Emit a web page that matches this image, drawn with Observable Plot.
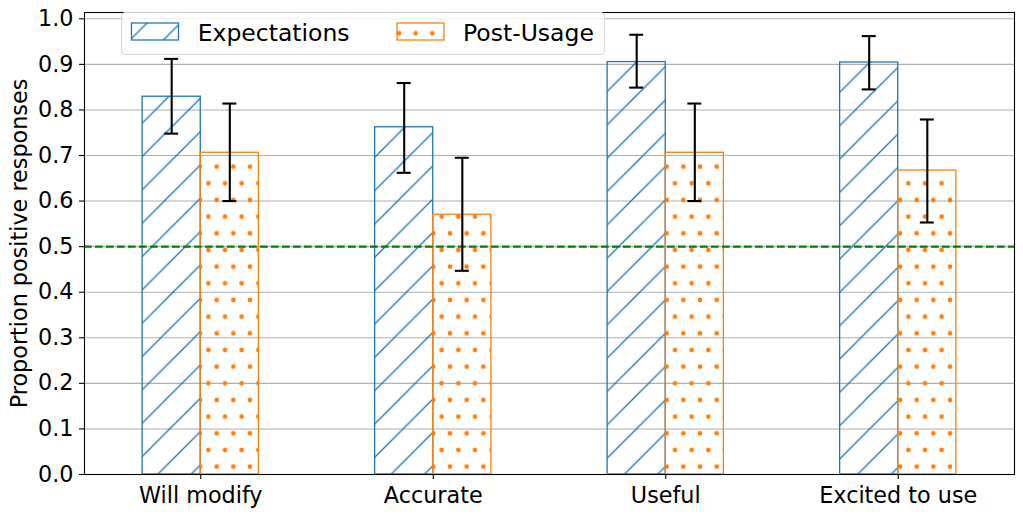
<!DOCTYPE html>
<html>
<head>
<meta charset="utf-8">
<script src="https://cdn.jsdelivr.net/npm/d3@7"></script>
<script src="https://cdn.jsdelivr.net/npm/@observablehq/plot@0.6"></script>
<style>
  html, body { margin: 0; padding: 0; background: white; }
  #wrap { position: relative; width: 1023px; height: 517px; font-family: "DejaVu Sans", sans-serif; }
  #wrap > svg { display: block; }
  #legend { position: absolute; left: 121px; top: 12px; }
</style>
</head>
<body>
<div id="wrap"></div>
<script>
// ---- data ----
const categories = ["Will modify", "Accurate", "Useful", "Excited to use"];
const seriesNames = ["Expectations", "Post-Usage"];
const expectations = [0.829, 0.762, 0.905, 0.904];
const expLow = [0.748, 0.662, 0.849, 0.845];
const expHigh = [0.912, 0.859, 0.965, 0.962];
const postUsage = [0.706, 0.570, 0.706, 0.667];
const postLow = [0.600, 0.447, 0.600, 0.553];
const postHigh = [0.814, 0.695, 0.814, 0.779];
const yTicks = [0, 0.1, 0.2, 0.3, 0.4, 0.5, 0.6, 0.7, 0.8, 0.9, 1.0];
const refLine = [0.5];
const yLabel = "Proportion positive responses";

// ---- build table ----
const barW = 0.25;
const capHalf = 0.03;
const rows = [];
categories.forEach((c, i) => {
  rows.push({cat: c, i, series: seriesNames[0], off: -1, value: expectations[i], lo: expLow[i], hi: expHigh[i]});
  rows.push({cat: c, i, series: seriesNames[1], off: 0, value: postUsage[i], lo: postLow[i], hi: postHigh[i]});
});
const blue = "#1f77b4", orange = "#ff7f0e";
const exp = rows.filter(d => d.series === seriesNames[0]);
const post = rows.filter(d => d.series === seriesNames[1]);
const fs = 22.3;

const chart = Plot.plot({
  width: 1023,
  height: 517,
  marginLeft: 84,
  marginRight: 9,
  marginTop: 12,
  marginBottom: 43,
  x: {domain: [-0.5, 3.5]},
  y: {domain: [0, 1.0138]},
  style: {fontFamily: "DejaVu Sans", fontSize: fs + "px", color: "black", background: "white", overflow: "visible"},
  marks: [
    Plot.gridY(yTicks, {stroke: "#b0b0b0", strokeOpacity: 1, strokeWidth: 1.1}),
    Plot.rect(exp, {x1: d => d.i - barW, x2: d => d.i, y1: 0, y2: "value", fill: "url(#hatchBlue)", stroke: blue, strokeWidth: 1.3}),
    Plot.rect(post, {x1: d => d.i, x2: d => d.i + barW, y1: 0, y2: "value", fill: "url(#dotsOrange)", stroke: orange, strokeWidth: 1.3}),
    Plot.ruleY(refLine, {stroke: "#008000", strokeWidth: 2.1, strokeDasharray: "7.7,3.3"}),
    Plot.ruleX(rows, {x: d => d.i + (d.off + 0.5) * barW, y1: "lo", y2: "hi", stroke: "black", strokeWidth: 2.1}),
    Plot.ruleY(rows, {y: "lo", x1: d => d.i + (d.off + 0.5) * barW - capHalf, x2: d => d.i + (d.off + 0.5) * barW + capHalf, stroke: "black", strokeWidth: 2.1}),
    Plot.ruleY(rows, {y: "hi", x1: d => d.i + (d.off + 0.5) * barW - capHalf, x2: d => d.i + (d.off + 0.5) * barW + capHalf, stroke: "black", strokeWidth: 2.1}),
    Plot.frame({stroke: "black", strokeWidth: 1.1}),
    Plot.axisY(yTicks, {tickFormat: d3.format(".1f"), tickSize: 5, tickPadding: 6, label: null, fontSize: fs, strokeWidth: 1.1}),
    Plot.axisX([0, 1, 2, 3], {tickFormat: i => categories[i], tickSize: 5, tickPadding: 8, label: null, fontSize: fs, strokeWidth: 1.1}),
    Plot.text([yLabel], {frameAnchor: "left", dx: -65, rotate: -90, textAnchor: "middle", lineAnchor: "middle", fontSize: fs, fill: "black"})
  ]
});

// patterns (aligned to absolute svg coordinates)
d3.select(chart).insert("defs", ":first-child").html(`
  <pattern id="hatchBlue" patternUnits="userSpaceOnUse" width="33.333" height="33.333" x="32" y="0">
    <path d="M-8,8 L8,-8 M0,33.333 L33.333,0 M25.333,41.333 L41.333,25.333" stroke="${blue}" stroke-width="1.35" fill="none"/>
  </pattern>
  <pattern id="dotsOrange" patternUnits="userSpaceOnUse" width="16.667" height="33.333" x="0" y="0">
    <circle cx="0" cy="0" r="2.35" fill="${orange}"/>
    <circle cx="16.667" cy="0" r="2.35" fill="${orange}"/>
    <circle cx="0" cy="33.333" r="2.35" fill="${orange}"/>
    <circle cx="16.667" cy="33.333" r="2.35" fill="${orange}"/>
    <circle cx="8.333" cy="16.667" r="2.35" fill="${orange}"/>
  </pattern>`);

const wrap = document.getElementById("wrap");
wrap.appendChild(chart);

// legend overlay (inside axes, upper left)
const lg = d3.select(wrap).append("svg").attr("id", "legend")
  .attr("width", 485).attr("height", 44)
  .style("font-family", "DejaVu Sans").style("font-size", "23.5px");
lg.append("defs").html(`
  <pattern id="lgHatch" patternUnits="userSpaceOnUse" width="33.333" height="33.333" x="3.7" y="0">
    <path d="M-8,8 L8,-8 M0,33.333 L33.333,0 M25.333,41.333 L41.333,25.333" stroke="${blue}" stroke-width="1.35" fill="none"/>
  </pattern>
  <pattern id="lgDots" patternUnits="userSpaceOnUse" width="16.667" height="33.333" x="11.33" y="21.3">
    <circle cx="0" cy="0" r="2.35" fill="${orange}"/>
    <circle cx="16.667" cy="0" r="2.35" fill="${orange}"/>
    <circle cx="0" cy="33.333" r="2.35" fill="${orange}"/>
    <circle cx="16.667" cy="33.333" r="2.35" fill="${orange}"/>
    <circle cx="8.333" cy="16.667" r="2.35" fill="${orange}"/>
  </pattern>`);
lg.append("rect").attr("x", 0.5).attr("y", 0.5).attr("width", 483).attr("height", 42).attr("rx", 4)
  .attr("fill", "rgba(255,255,255,0.8)").attr("stroke", "#d6d6d6").attr("stroke-width", 1.1);
const items = [
  {name: seriesNames[0], fill: "url(#lgHatch)", stroke: blue, sx: 10.5, tx: 76.7},
  {name: seriesNames[1], fill: "url(#lgDots)", stroke: orange, sx: 276, tx: 342}
];
items.forEach(it => {
  lg.append("rect").attr("x", it.sx).attr("y", 11).attr("width", 47).attr("height", 17)
    .attr("fill", it.fill).attr("stroke", it.stroke).attr("stroke-width", 1.3);
  lg.append("text").attr("x", it.tx).attr("y", 28.5).attr("fill", "black").text(it.name);
});
</script>
</body>
</html>
